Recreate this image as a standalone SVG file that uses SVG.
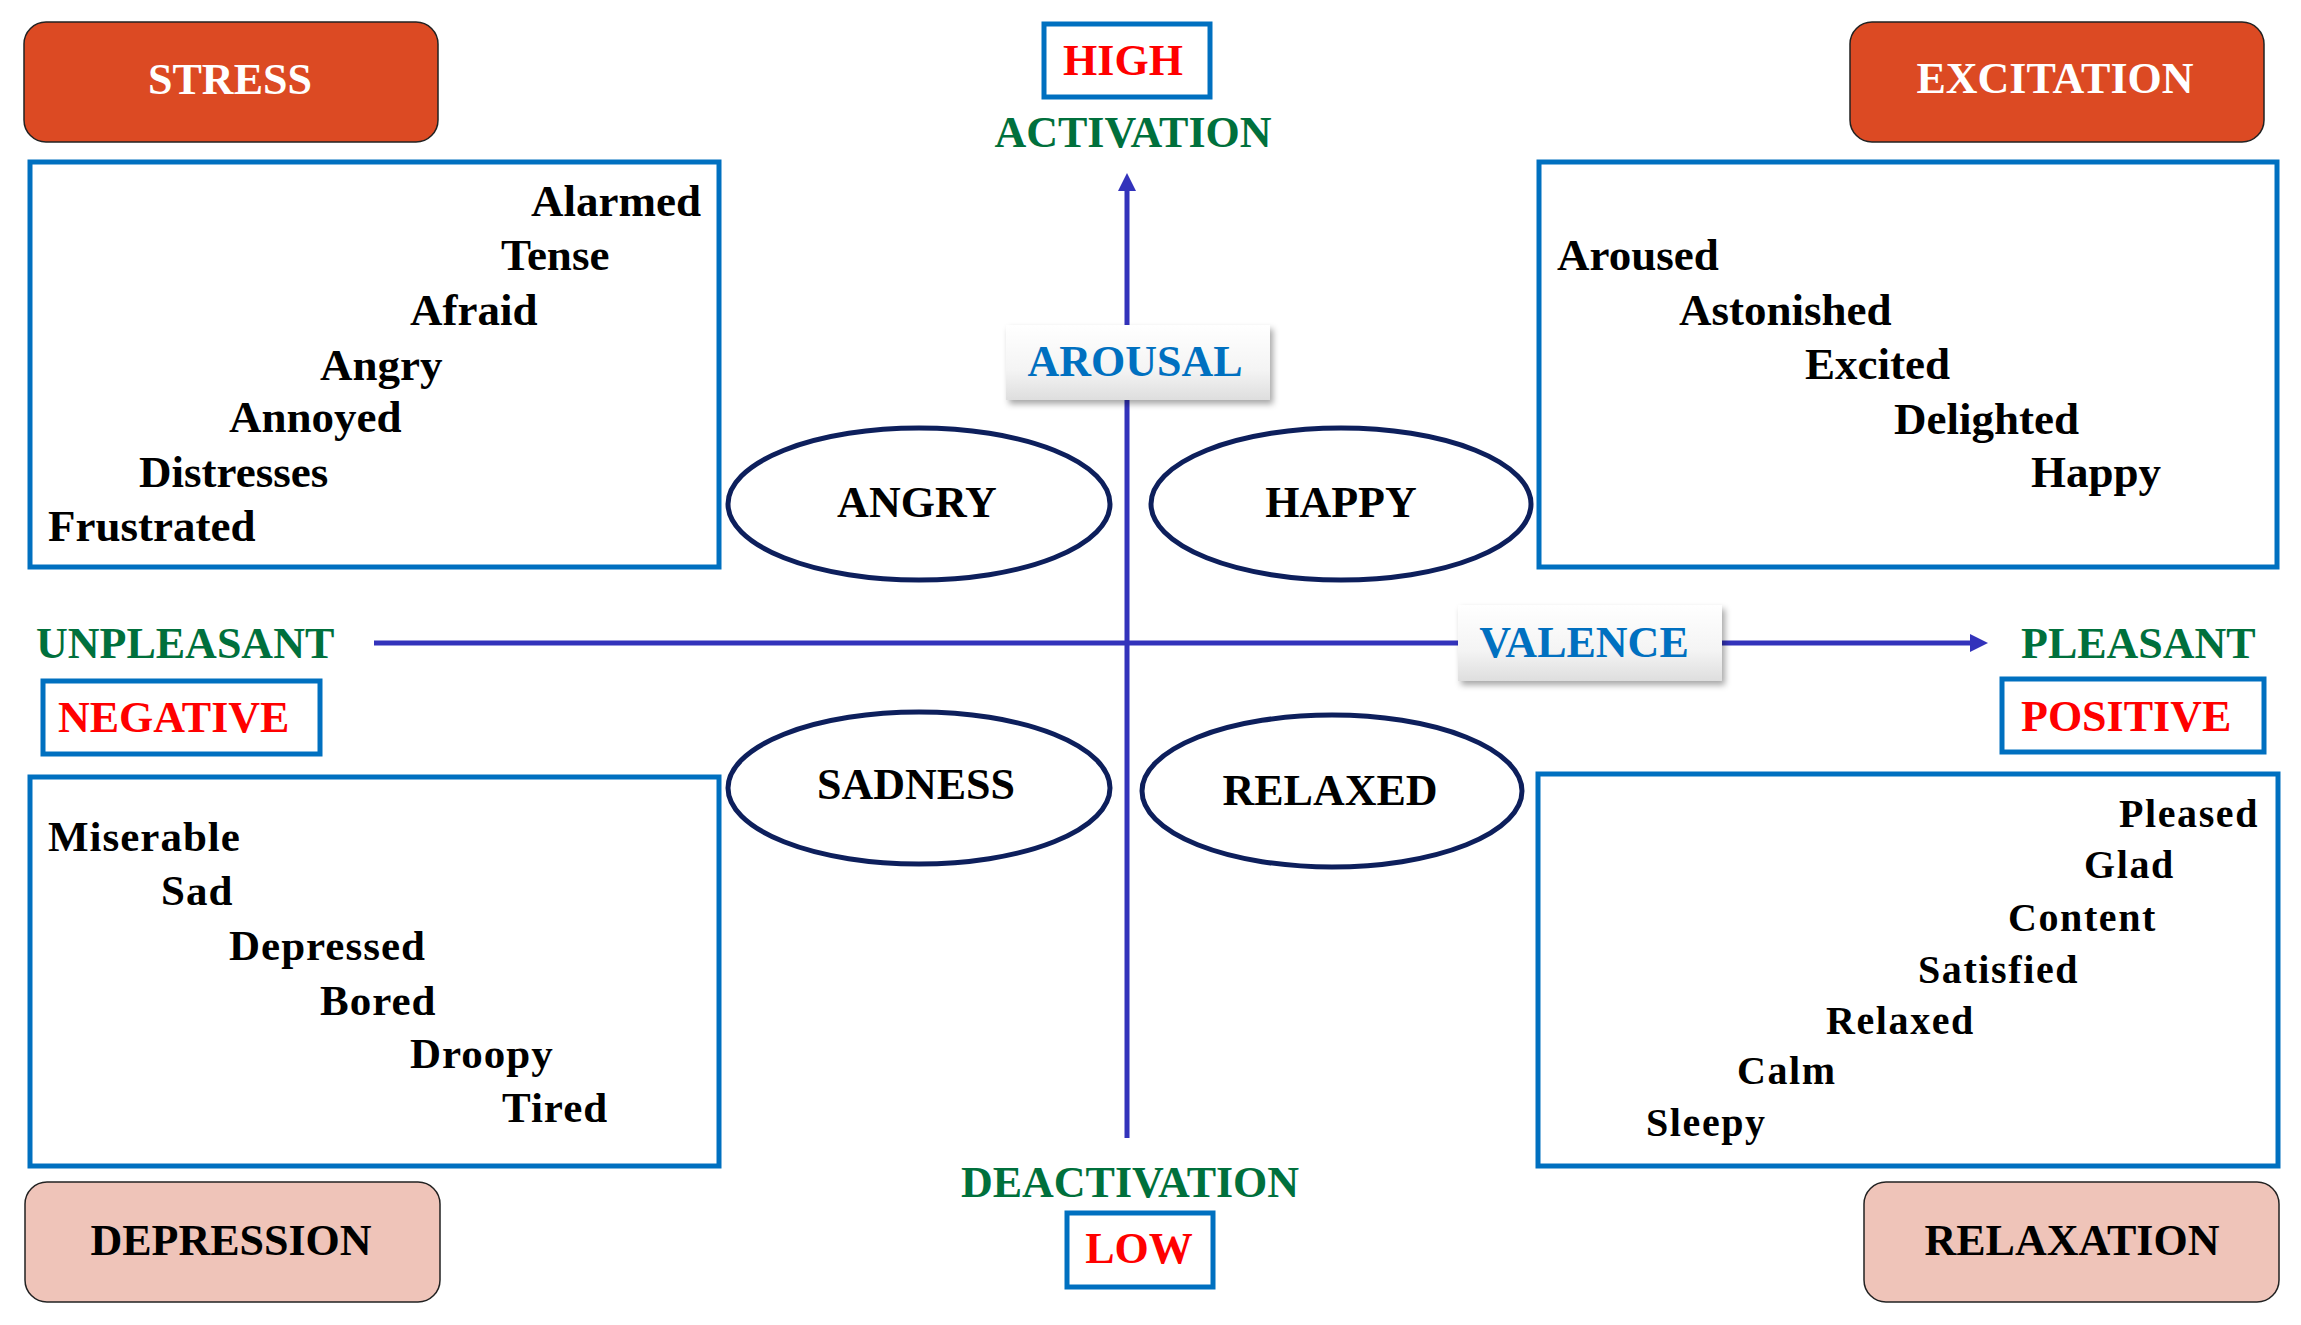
<svg xmlns="http://www.w3.org/2000/svg" width="2301" height="1325" viewBox="0 0 2301 1325">
<style>
text{font-family:"Liberation Serif","Times New Roman",serif;font-weight:bold;}
.hdr{font-size:44px;text-anchor:middle;}
.white{fill:#ffffff;}
.blk{fill:#000000;}
.red{fill:#ff0000;}
.green{fill:#00703c;}
.blue{fill:#0070c0;}
.orange{fill:#dc4a23;stroke:#222222;stroke-width:1.5;}
.pink{fill:#efc4b9;stroke:#222222;stroke-width:1.5;}
.bbox{fill:#ffffff;stroke:#0070c0;stroke-width:5;}
.ell{fill:#ffffff;stroke:#0d1f5c;stroke-width:5;}
.axis{stroke:#3333bb;stroke-width:5;fill:none;}
.w1{font-size:45px;}
.w2{font-size:43px;letter-spacing:1px;}
.w3{font-size:40px;letter-spacing:1.6px;}
.side{font-size:44px;}
.lbl{fill:url(#grad);}
</style>
<defs>
<linearGradient id="grad" x1="0" y1="0" x2="0" y2="1">
<stop offset="0" stop-color="#ffffff"/>
<stop offset="0.6" stop-color="#f4f4f4"/>
<stop offset="1" stop-color="#dedede"/>
</linearGradient>
<filter id="sh" x="-10%" y="-20%" width="130%" height="150%">
<feDropShadow dx="3" dy="4" stdDeviation="3" flood-color="#000000" flood-opacity="0.35"/>
</filter>
<marker id="ah" markerUnits="userSpaceOnUse" markerWidth="18" markerHeight="18" refX="0" refY="8" orient="auto" viewBox="0 0 16 16">
<path d="M0,0 L16,8 L0,16 z" fill="#3333bb"/>
</marker>
</defs>
<rect width="2301" height="1325" fill="#ffffff"/>

<g id="connectors">
<line class="axis" x1="1127" y1="1138" x2="1127" y2="191" marker-end="url(#ah)"/>
<line class="axis" x1="374" y1="643" x2="1970" y2="643" marker-end="url(#ah)"/>
</g>

<g id="stress">
<rect class="orange" x="24" y="22" width="414" height="120" rx="22"/>
<text class="hdr white" x="230" y="94">STRESS</text>
</g>
<g id="excitation">
<rect class="orange" x="1850" y="22" width="414" height="120" rx="22"/>
<text class="hdr white" x="2055" y="93">EXCITATION</text>
</g>
<g id="depression">
<rect class="pink" x="25" y="1182" width="415" height="120" rx="22"/>
<text class="hdr blk" x="231" y="1255">DEPRESSION</text>
</g>
<g id="relaxation">
<rect class="pink" x="1864" y="1182" width="415" height="120" rx="22"/>
<text class="hdr blk" x="2072" y="1255">RELAXATION</text>
</g>

<g id="high">
<rect class="bbox" x="1044" y="24" width="166" height="73"/>
<text class="hdr red" x="1123" y="75">HIGH</text>
</g>
<g id="activation">
<text class="hdr green" x="1133" y="147">ACTIVATION</text>
</g>
<g id="deactivation">
<text class="hdr green" x="1130" y="1197">DEACTIVATION</text>
</g>
<g id="low">
<rect class="bbox" x="1067" y="1213" width="146" height="74"/>
<text class="hdr red" x="1139" y="1263">LOW</text>
</g>
<g id="unpleasant">
<text class="green side" x="36" y="658">UNPLEASANT</text>
</g>
<g id="pleasant">
<text class="green side" x="2021" y="658">PLEASANT</text>
</g>
<g id="negative">
<rect class="bbox" x="43" y="681" width="277" height="73"/>
<text class="red side" x="58" y="732">NEGATIVE</text>
</g>
<g id="positive">
<rect class="bbox" x="2002" y="679" width="262" height="73"/>
<text class="red side" x="2021" y="731">POSITIVE</text>
</g>

<g id="arousal">
<rect class="lbl" x="1006" y="325" width="264" height="75" filter="url(#sh)"/>
<text class="hdr blue" x="1135" y="376">AROUSAL</text>
</g>
<g id="valence">
<rect class="lbl" x="1458" y="605" width="264" height="76" filter="url(#sh)"/>
<text class="hdr blue" x="1584" y="657">VALENCE</text>
</g>

<g id="angry">
<ellipse class="ell" cx="919" cy="504" rx="191" ry="76"/>
<text class="hdr blk" x="917" y="517">ANGRY</text>
</g>
<g id="happy">
<ellipse class="ell" cx="1341" cy="504" rx="190" ry="76"/>
<text class="hdr blk" x="1341" y="517">HAPPY</text>
</g>
<g id="sadness">
<ellipse class="ell" cx="919" cy="788" rx="191" ry="76"/>
<text class="hdr blk" x="916" y="799">SADNESS</text>
</g>
<g id="relaxed">
<ellipse class="ell" cx="1332" cy="791" rx="190" ry="76"/>
<text class="hdr blk" x="1330" y="805">RELAXED</text>
</g>

<g id="stress-list">
<rect class="bbox" x="30" y="162" width="689" height="405"/>
<text class="w1 blk" x="531" y="216">Alarmed</text>
<text class="w1 blk" x="501" y="270">Tense</text>
<text class="w1 blk" x="410" y="325">Afraid</text>
<text class="w1 blk" x="320" y="380">Angry</text>
<text class="w1 blk" x="229" y="432">Annoyed</text>
<text class="w1 blk" x="139" y="487">Distresses</text>
<text class="w1 blk" x="48" y="541">Frustrated</text>
</g>
<g id="excitation-list">
<rect class="bbox" x="1539" y="162" width="738" height="405"/>
<text class="w1 blk" x="1557" y="270">Aroused</text>
<text class="w1 blk" x="1679" y="325">Astonished</text>
<text class="w1 blk" x="1805" y="379">Excited</text>
<text class="w1 blk" x="1894" y="434">Delighted</text>
<text class="w1 blk" x="2031" y="487">Happy</text>
</g>
<g id="depression-list">
<rect class="bbox" x="30" y="777" width="689" height="389"/>
<text class="w2 blk" x="48" y="851">Miserable</text>
<text class="w2 blk" x="161" y="905">Sad</text>
<text class="w2 blk" x="229" y="960">Depressed</text>
<text class="w2 blk" x="320" y="1015">Bored</text>
<text class="w2 blk" x="410" y="1068">Droopy</text>
<text class="w2 blk" x="502" y="1122">Tired</text>
</g>
<g id="relaxation-list">
<rect class="bbox" x="1538" y="774" width="740" height="392"/>
<text class="w3 blk" x="2119" y="827">Pleased</text>
<text class="w3 blk" x="2084" y="878">Glad</text>
<text class="w3 blk" x="2008" y="931">Content</text>
<text class="w3 blk" x="1918" y="983">Satisfied</text>
<text class="w3 blk" x="1826" y="1034">Relaxed</text>
<text class="w3 blk" x="1737" y="1084">Calm</text>
<text class="w3 blk" x="1646" y="1136">Sleepy</text>
</g>
</svg>
